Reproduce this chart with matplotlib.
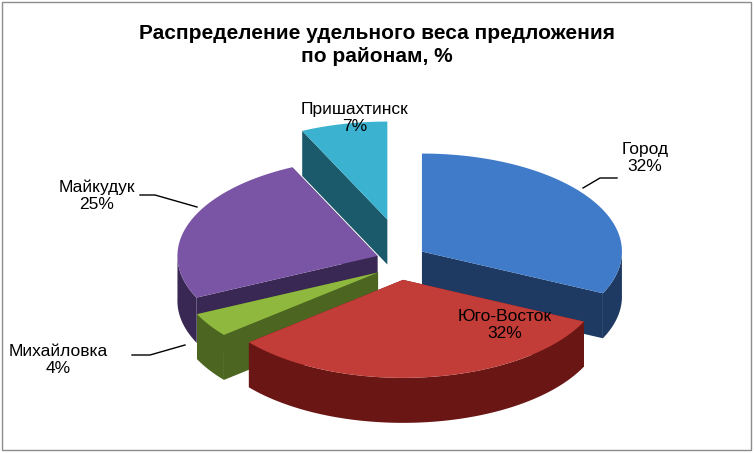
import numpy as np
import matplotlib.pyplot as plt
from matplotlib.patches import Polygon, Rectangle

labels = ['Город', 'Юго-Восток', 'Михайловка', 'Майкудук', 'Пришахтинск']
values = [32, 32, 4, 25, 7]
top_colors = ['#3f7bc9', '#c23c38', '#8fb83e', '#7a55a6', '#3bb2cf']
side_colors = ['#1e3a62', '#6a1614', '#4c6621', '#3a2854', '#1b5a6b']
explode = [26, 24, 26, 24, 58]

cx, cy = 400, 262
rx, ry, depth = 200, 98, 45

fig = plt.figure(figsize=(7.54, 4.53), dpi=100)
ax = fig.add_axes([0, 0, 1, 1])
ax.set_xlim(0, 754)
ax.set_ylim(453, 0)
ax.axis('off')
ax.add_patch(Rectangle((2, 2), 749, 448, fill=False, ec='#8c8c8c', lw=1))


def pt(ox, oy, t):
    return ox + rx * np.cos(t), oy - ry * np.sin(t)


total = sum(values)
start = np.pi / 2
slices = []
for i, v in enumerate(values):
    sweep = 2 * np.pi * v / total
    t1, t0 = start, start - sweep
    start = t0
    mid = (t0 + t1) / 2
    ox = cx + explode[i] * np.cos(mid)
    oy = cy - explode[i] * 0.75 * np.sin(mid)
    slices.append((i, t0, t1, mid, ox, oy))

# back slices first
for i, t0, t1, mid, ox, oy in sorted(slices, key=lambda s: -np.sin(s[3])):
    side = side_colors[i]
    # radial walls
    for t in (t0, t1):
        ex, ey = pt(ox, oy, t)
        ax.add_patch(Polygon([(ox, oy), (ex, ey), (ex, ey + depth), (ox, oy + depth)],
                             closed=True, fc=side, ec='none'))
    # outer wall on front half
    ts = np.linspace(t0, t1, 200)
    ts = ts[np.sin(ts) < 0.02]
    if len(ts) > 1:
        xs, ys = pt(ox, oy, ts)
        poly = list(zip(xs, ys)) + list(zip(xs[::-1], ys[::-1] + depth))
        ax.add_patch(Polygon(poly, closed=True, fc=side, ec='none'))
    ts = np.linspace(t0, t1, 200)
    xs, ys = pt(ox, oy, ts)
    ax.add_patch(Polygon([(ox, oy)] + list(zip(xs, ys)), closed=True,
                         fc=top_colors[i], ec='none'))

ax.text(377, 45, 'Распределение удельного веса предложения\nпо районам, %',
        ha='center', va='center', fontsize=15, fontweight='bold',
        family='Liberation Sans', linespacing=1.25)

lbl_pos = [(645, 158), (505, 325), (58, 360), (97, 196), (355, 118)]
for (x, y), name, v in zip(lbl_pos, labels, values):
    ax.text(x, y, '%s\n%d%%' % (name, v), ha='center', va='center',
            fontsize=12.5, family='Liberation Sans', linespacing=1.15)

ax.plot([617, 600, 583], [178, 178, 188], color='black', lw=1)
ax.plot([140, 155, 197], [195, 195, 207], color='black', lw=1)
ax.plot([132, 150, 185], [355, 355, 345], color='black', lw=1)

fig.savefig('out.png', dpi=100)
